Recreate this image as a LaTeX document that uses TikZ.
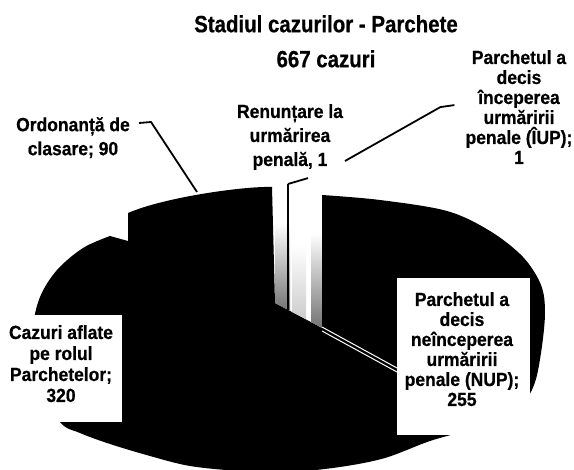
\documentclass[tikz,border=0pt]{standalone}
\usepackage{fontspec}
\setmainfont{Liberation Sans}
\newfontfamily\lblfont{Liberation Sans}[FakeStretch=0.92,FakeBold=0.6]
\newfontfamily\ttlfont{Liberation Sans}[FakeStretch=0.87,FakeBold=0.6]
\usetikzlibrary{calc,positioning}

\begin{document}
\begin{tikzpicture}[x=1pt,y=-1pt,
  lbl/.style={font=\lblfont\bfseries\fontsize{19}{20}\selectfont, align=center, inner sep=0pt, anchor=north},
  lblwide/.style={lbl, font=\lblfont\bfseries\fontsize{19}{24}\selectfont},
  leader/.style={line width=1.8pt, line join=round},
  stip/.style={top color=white, bottom color=black!55},
  gapline/.style={white, line width=1pt}]
\useasboundingbox (0,0) rectangle (574,470);
\node[lbl, font=\ttlfont\bfseries\fontsize{23.5}{35}\selectfont] (title) at (326,15) {Stadiul cazurilor - Parchete\\667 cazuri};
\fill (322,195) -- (322,328) -- (275,303) -- (272,187)
  .. controls (245,186) and (165,197) .. (128,213)
  -- (128,241) -- (110,236)
  -- plot[smooth, tension=0.55] coordinates {(110,236) (83,248) (57,270) (40,297) (33,330) (36,380) (60,422) (80,433) (110,444) (150,456) (190,466) (240,471) (290,472) (340,467) (385,458) (430,441) (480,426) (520,405) (534,385) (541,353) (545,313) (541,285) (523,257) (490,231) (447,211) (380,200) (322,195)}
  -- cycle;
\shade[stip] (275,223) -- (290,223) -- (290,311) -- (275,303) -- cycle;
\shade[stip] (311,233) -- (322,233) -- (322,328) -- (311,322) -- cycle;
\shade[top color=white, bottom color=black!20] (292,245) -- (306,245) -- (306,319) -- (292,312) -- cycle;
\draw[gapline] (322,327) -- (397,368);
\draw[gapline] (322,331) -- (397,372);
\fill[white] (0,315) rectangle (122,422);
\fill[white] (397,278) rectangle (530,435);
\coordinate (renTip) at (288,184);
\coordinate (renBase) at (288,310);
\coordinate (ordTip) at (197,192);
\coordinate (iupTip) at (345,161);
\draw[line width=2.5pt] (renTip) -- (renBase);
\node[lblwide] (ordLbl) at (73,117) {Ordonanță de\\clasare; 90};
\node[lblwide] (renLbl) at (290,104) {Renunțare la\\urmărirea\\penală, 1};
\node[lbl] (iupLbl) at (519,50) {Parchetul a\\decis\\începerea\\urmăririi\\penale (ÎUP);\\1};
\node[lbl, font=\lblfont\bfseries\fontsize{19}{21}\selectfont] (cazLbl) at (61,325) {Cazuri aflate\\pe rolul\\Parchetelor;\\320};
\node[lbl] (nupLbl) at (462,292) {Parchetul a\\decis\\neînceperea\\urmăririi\\penale (NUP);\\255};
\draw[leader] ($(ordLbl.north east)+(9,6)$) -- ++(12,-1) -- (ordTip);
\draw[leader] ($(renLbl.south)+(18,8)$) -- (renTip);
\draw[leader] ($(iupLbl.west)+(-11,-2)$) -- ++(-14,2) -- (iupTip);
\end{tikzpicture}
\end{document}
